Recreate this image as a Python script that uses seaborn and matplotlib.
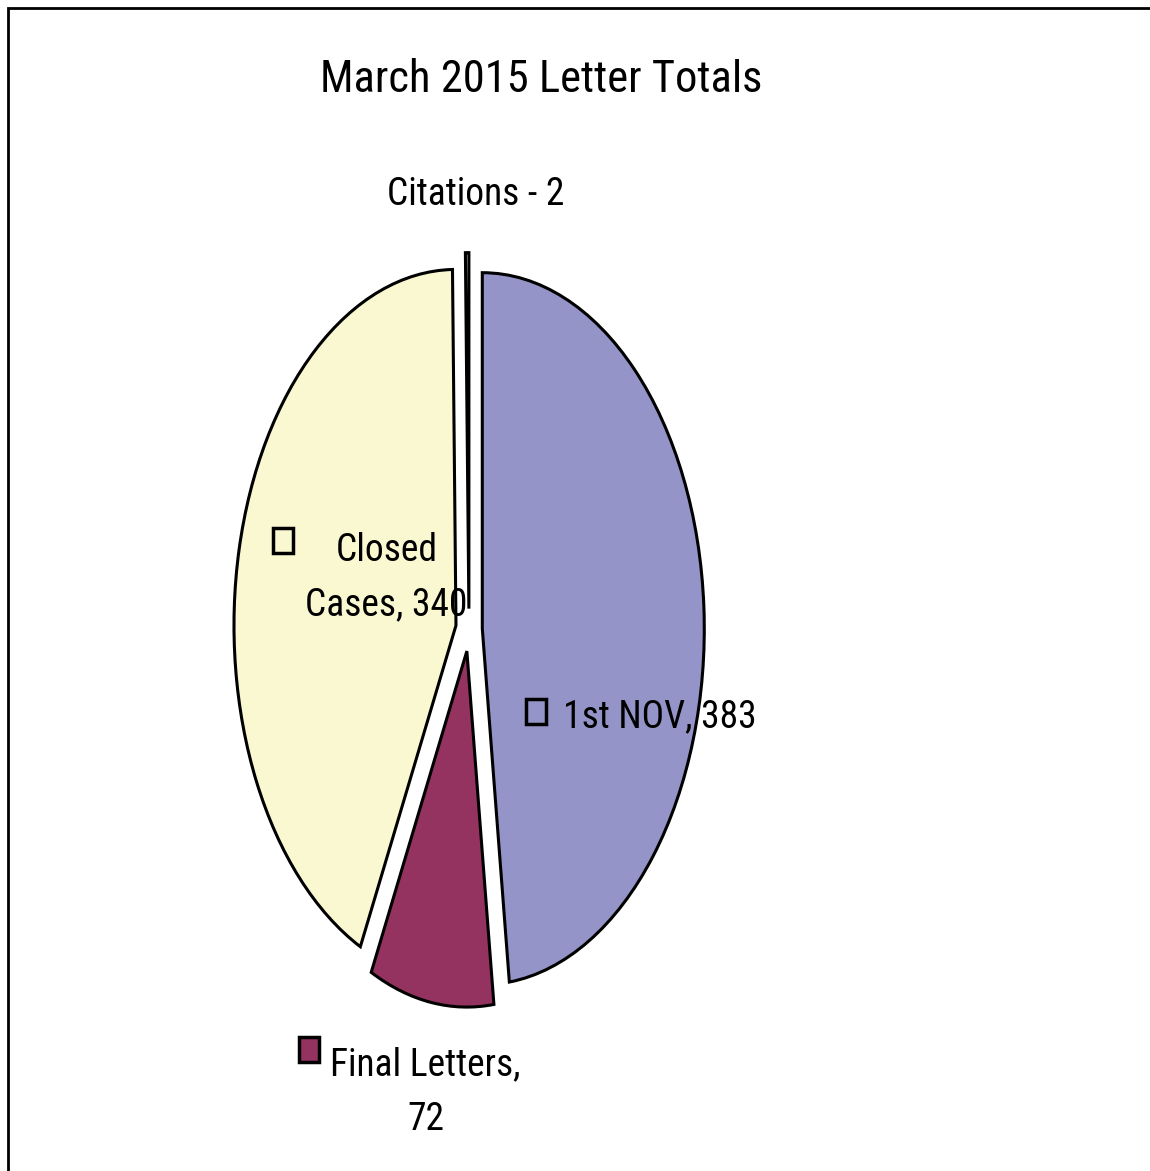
import matplotlib
matplotlib.use('Agg')
import matplotlib.pyplot as plt
import matplotlib.patches as mpatches
from matplotlib import font_manager
import seaborn as sns

sns.set_theme(style='white')

# pick a condensed face if one exists
available = {f.name for f in font_manager.fontManager.ttflist}
narrow = [n for n in ['Liberation Sans Narrow', 'Roboto Condensed', 'DejaVu Sans Condensed',
                      'Open Sans Condensed', 'Noto Sans Condensed'] if n in available]
plt.rcParams['font.family'] = narrow + ['Liberation Sans', 'DejaVu Sans']
is_narrow = len(narrow) > 0

# data
categories = ['1st NOV', 'Final Letters', 'Closed Cases', 'Citations']
values = [383, 72, 340, 2]
colors = ['#9494C8', '#943360', '#FAF8D0', '#FFFFFF']
label_texts = ['1st NOV, 383', 'Final Letters,\n72', 'Closed\nCases, 340', 'Citations - 2']

# label positions (data coords, pie centre = 0,0) and legend keys
label_pos = [(0.86, -0.245), (-0.196, -1.298), (-0.372, 0.148), (0.031, 1.222)]
key_pos = [(0.302, -0.23), (-0.72, -1.178), (-0.84, 0.25), None]
key_fill = ['#9494C8', '#943360', '#FAF8D0', None]

W, H = 1150, 1171
fig = plt.figure(figsize=(W / 100, H / 100), dpi=100)

# ellipse: rx ~222 px, ry ~356 px
rx, ry = 222, 356
cx, cy = 469, 630
xl, yl = 2.0, 1.45
ax = fig.add_axes([(cx - xl * rx) / W, (H - cy - yl * ry) / H,
                   2 * xl * rx / W, 2 * yl * ry / H])

ax.pie(values, colors=colors, startangle=90, counterclock=False,
       explode=[0.06] * len(values),
       wedgeprops=dict(edgecolor='black', linewidth=2.2))
ax.set_aspect('auto')
ax.set_xlim(-xl, xl)
ax.set_ylim(-yl, yl)
ax.axis('off')

lab_size = 27 if is_narrow else 24
for txt, (x, y) in zip(label_texts, label_pos):
    ax.text(x, y, txt, ha='center', va='center', fontsize=lab_size,
            linespacing=1.6, color='black')

kw, kh = 20 / rx, 25 / ry
for kp, fc in zip(key_pos, key_fill):
    if kp is None:
        continue
    ax.add_patch(mpatches.Rectangle((kp[0] - kw / 2, kp[1] - kh / 2), kw, kh,
                                    facecolor=fc, edgecolor='black',
                                    linewidth=2.5, zorder=5))

fig.text(541 / W, 1 - 80 / H, 'March 2015 Letter Totals', ha='center',
         va='center', fontsize=32 if is_narrow else 29, color='black')

# outer frame
fig.add_artist(mpatches.Rectangle((8 / W, -0.02), 1.05, 1 - 8 / H + 0.02,
                                  transform=fig.transFigure, fill=False,
                                  edgecolor='black', linewidth=2))

fig.savefig('out.png', dpi=100, facecolor='white')
